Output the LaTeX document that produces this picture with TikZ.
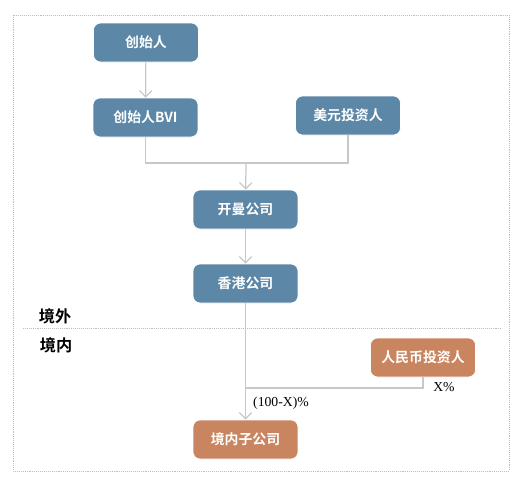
\documentclass[tikz,border=0pt]{standalone}
\usepackage{fontspec}
\usepackage{xcolor}
\usepackage{tikz}
\usetikzlibrary{
  arrows.meta,
  positioning,
  calc
}
\newfontfamily\cjk{Noto Sans CJK SC}[BoldFont={Noto Sans CJK SC Bold}]
\newfontfamily\pctfont{Liberation Serif}
\definecolor{OffBlue}{RGB}{93,135,167}
\definecolor{OnOrange}{RGB}{201,133,96}
\definecolor{LinkGray}{RGB}{200,200,200}
\definecolor{FrameGray}{RGB}{190,190,190}
\tikzset{
  %%── 实体节点 ───────────────────────────
  entity/.style = {
    rectangle, rounded corners = 4pt,
    draw = white, line width = 0.4pt,
    minimum width = 2.1cm, minimum height = 0.78cm,
    align = center, text = white,
    font = \cjk\bfseries\fontsize{7.9}{9}\selectfont
  },
  offshore/.style = {entity, fill = OffBlue},
  onshore/.style  = {entity, fill = OnOrange},
  %%── 区域标签 ───────────────────────────
  zone/.style = {font = \cjk\bfseries\fontsize{9.2}{11}\selectfont},
  pct/.style  = {font = \pctfont\fontsize{7.8}{9}\selectfont},
  %%── 连线 ───────────────────────────────
  link/.style  = {line width = 0.7pt, color = LinkGray},
  arr/.style   = {link, -{Straight Barb[length=3.5pt, width=7pt]}},
  dotline/.style = {FrameGray, line width = 0.5pt, dash pattern = on 0.5pt off 0.6pt},
}
\begin{document}
\begin{tikzpicture}[x=0.02cm, y=-0.02cm]
  \useasboundingbox (0,0) rectangle (528,485);
  \draw[dotline] (13,15) rectangle (509,471);
  \draw[dotline] (23,328) -- (502,328);

  \node[offshore] (founder) at (146,42.5)  {创始人};
  \node[offshore] (bvi)     at (145.5,117.5) {创始人BVI};
  \node[offshore] (usd)     at (348,115.5) {美元投资人};
  \node[offshore] (cayman)  at (245.5,209.5) {开曼公司};
  \node[offshore] (hk)      at (245.5,283.5) {香港公司};
  \node[onshore]  (rmb)     at (423,357.5) {人民币投资人};
  \node[onshore]  (sub)     at (245.5,439.5) {境内子公司};

  \node[zone] (outside) at (55,316) {境外};
  \node[zone] (inside)  at (56,345) {境内};

  \coordinate (join) at (246,163);
  \coordinate (tap)  at (246,388);

  \draw[arr]  (founder) -- (bvi);
  \draw[link] (bvi.south) |- (join) -| (usd.south);
  \draw[arr]  (join) -- (cayman);
  \draw[arr]  (cayman) -- (hk);
  \draw[arr]  (hk) -- (sub);
  \draw[link] (rmb.south) |- (tap);

  \node[pct] (rmbpct) at (444,387) {X\%};
  \node[pct] (hkpct)  at (281,403) {(100-X)\%};
\end{tikzpicture}
\end{document}
